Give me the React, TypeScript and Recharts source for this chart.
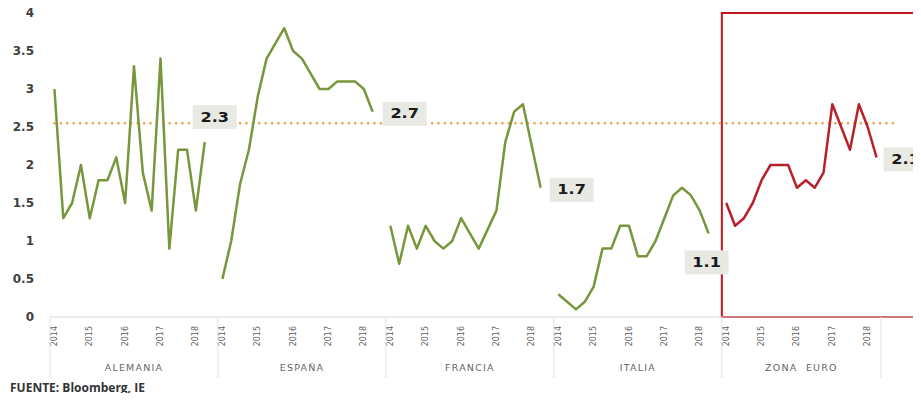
import React from 'react';
import {
  LineChart,
  Line,
  XAxis,
  YAxis,
  ReferenceLine,
  ReferenceArea,
  LabelList,
} from 'recharts';

// inflación trimestral 2014T1 - 2018T2
const GROUPS = ['ALEMANIA', 'ESPAÑA', 'FRANCIA', 'ITALIA', 'ZONA  EURO'];
const YEARS = ['2014', '2015', '2016', '2017', '2018'];

const alemania = [3.0, 1.3, 1.5, 2.0, 1.3, 1.8, 1.8, 2.1, 1.5, 3.3, 1.9, 1.4, 3.4, 0.9, 2.2, 2.2, 1.4, 2.3];
const espana = [0.5, 1.0, 1.75, 2.2, 2.9, 3.4, 3.6, 3.8, 3.5, 3.4, 3.2, 3.0, 3.0, 3.1, 3.1, 3.1, 3.0, 2.7];
const francia = [1.2, 0.7, 1.2, 0.9, 1.2, 1.0, 0.9, 1.0, 1.3, 1.1, 0.9, 1.15, 1.4, 2.3, 2.7, 2.8, 2.25, 1.7];
const italia = [0.3, 0.2, 0.1, 0.2, 0.4, 0.9, 0.9, 1.2, 1.2, 0.8, 0.8, 1.0, 1.3, 1.6, 1.7, 1.6, 1.4, 1.1];
const zonaEuro = [1.5, 1.2, 1.3, 1.5, 1.8, 2.0, 2.0, 2.0, 1.7, 1.8, 1.7, 1.9, 2.8, 2.5, 2.2, 2.8, 2.5, 2.1];

const REF_LEVEL = 2.55;
const Y_TICKS = [0, 0.5, 1, 1.5, 2, 2.5, 3, 3.5, 4];

const SERIES = [alemania, espana, francia, italia, zonaEuro];

// label offsets from the last point of each series (dx, dy)
const LABEL_OFFSETS = [
  [10, -25],
  [32, 2],
  [31, 2],
  [-2, 29],
  [29, 2],
];

const SLOTS = 19; // 18 quarters + 1 empty slot between countries
const PAD_SLOTS = 5;
const GREEN = '#78963C';
const RED = '#B8212A';
const CHART_W = 940;
const PLOT_LEFT = 50;
const PLOT_RIGHT_MARGIN = 6;

type Row = { key: string; [k: string]: string | number | null };

const rows: Row[] = [];
GROUPS.forEach((_, g) => {
  for (let i = 0; i < SLOTS; i++) {
    const row: Row = { key: `${g}-${i}` };
    SERIES.forEach((vals, s) => {
      row[`s${s}`] = s === g && i < vals.length ? vals[i] : null;
    });
    rows.push(row);
  }
});
for (let i = 0; i < PAD_SLOTS; i++) {
  rows.push({ key: `pad-${i}` });
}

const BW = (CHART_W - PLOT_LEFT - PLOT_RIGHT_MARGIN) / rows.length;

const yearTicks: string[] = [];
GROUPS.forEach((_, g) => {
  YEARS.forEach((__, y) => yearTicks.push(`${g}-${y * 4}`));
});
const groupTicks = GROUPS.map((_, g) => `${g}-9`);

const YearTick = (props: any) => {
  const { x, y, payload } = props;
  const i = Number(String(payload.value).split('-')[1]);
  const label = YEARS[i / 4];
  const ty = y + 9;
  return (
    <text
      x={x}
      y={ty}
      transform={`rotate(-90 ${x} ${ty})`}
      textAnchor="end"
      dominantBaseline="central"
      fontSize={8}
      fill="#5f5f5f"
      fontFamily='"DejaVu Sans", sans-serif'
    >
      {label}
    </text>
  );
};

const GroupTick = (props: any) => {
  const { x, y, payload } = props;
  const g = Number(String(payload.value).split('-')[0]);
  const left = x - 9.5 * BW;
  const isLast = g === GROUPS.length - 1;
  const cx = isLast ? left + 9 * BW : x;
  return (
    <g>
      <line x1={left} x2={left} y1={y - 30} y2={y + 31} stroke="#e2e2e2" />
      {isLast && (
        <line x1={left + 18 * BW} x2={left + 18 * BW} y1={y - 30} y2={y + 31} stroke="#e2e2e2" />
      )}
      <text
        x={cx}
        y={y + 24}
        textAnchor="middle"
        fontSize={9.5}
        letterSpacing={1.2}
        fill="#666"
        style={{ whiteSpace: 'pre' }}
        fontFamily='"DejaVu Sans", sans-serif'
      >
        {GROUPS[g]}
      </text>
    </g>
  );
};

const makeEndLabel = (g: number) => (props: any) => {
  const { x, y, value, index } = props;
  const lastIndex = g * SLOTS + SERIES[g].length - 1;
  if (index !== lastIndex || value == null) return null;
  const [dx, dy] = LABEL_OFFSETS[g];
  const cx = x + dx;
  const cy = y + dy;
  return (
    <g>
      <rect x={cx - 22} y={cy - 12} width={44} height={24} fill="#e9e9e3" />
      <text
        transform={`translate(${cx} ${cy}) scale(1.15 1)`}
        textAnchor="middle"
        dominantBaseline="central"
        fontSize={14}
        fontWeight="bold"
        fill="#1a1a1a"
        fontFamily='"DejaVu Sans", sans-serif'
      >
        {Number(value).toFixed(1)}
      </text>
    </g>
  );
};

export default function App() {
  return (
    <div
      style={{
        position: 'relative',
        width: 921,
        height: 401,
        margin: -8,
        overflow: 'hidden',
        background: '#fff',
        fontFamily: '"DejaVu Sans", sans-serif',
      }}
    >
      <LineChart
        width={CHART_W}
        height={401}
        data={rows}
        margin={{ top: 13, right: PLOT_RIGHT_MARGIN, left: 0, bottom: 20 }}
      >
        <XAxis
          dataKey="key"
          type="category"
          scale="band"
          ticks={yearTicks}
          interval={0}
          tick={<YearTick />}
          tickLine={false}
          tickSize={0}
          tickMargin={0}
          axisLine={{ stroke: '#d9d9d9' }}
          height={30}
        />
        <XAxis
          xAxisId="grp"
          dataKey="key"
          type="category"
          scale="band"
          ticks={groupTicks}
          interval={0}
          tick={<GroupTick />}
          tickLine={false}
          tickSize={0}
          tickMargin={0}
          axisLine={false}
          height={34}
        />
        <YAxis
          width={PLOT_LEFT}
          domain={[0, 4]}
          ticks={Y_TICKS}
          interval={0}
          tickLine={false}
          axisLine={false}
          tickSize={0}
          tickMargin={16}
          tick={{ fontSize: 12, fontWeight: 'bold', fill: '#404040' }}
        />
        <ReferenceArea
          x1={`${GROUPS.length - 1}-0`}
          y1={0}
          y2={4}
          fill="none"
          fillOpacity={0}
          stroke="#C0141E"
          strokeWidth={2}
          ifOverflow="visible"
        />
        <ReferenceLine
          segment={[
            { x: rows[0].key, y: REF_LEVEL },
            { x: rows[GROUPS.length * SLOTS].key, y: REF_LEVEL },
          ]}
          stroke="#F0A050"
          strokeWidth={2.6}
          strokeDasharray="0.1 6.3"
          strokeLinecap="round"
        />
        {SERIES.map((_, g) => (
          <Line
            key={g}
            dataKey={`s${g}`}
            stroke={g === GROUPS.length - 1 ? RED : GREEN}
            strokeWidth={2.5}
            strokeLinejoin="round"
            dot={false}
            activeDot={false}
            connectNulls={false}
            isAnimationActive={false}
          >
            <LabelList dataKey={`s${g}`} content={makeEndLabel(g)} />
          </Line>
        ))}
      </LineChart>
      <div
        style={{
          position: 'absolute',
          left: 10,
          top: 381,
          lineHeight: '14px',
          fontFamily: '"Open Sans", sans-serif',
          fontWeight: 700,
          fontSize: 12,
          color: '#333',
        }}
      >
        FUENTE: Bloomberg, IE
      </div>
    </div>
  );
}
